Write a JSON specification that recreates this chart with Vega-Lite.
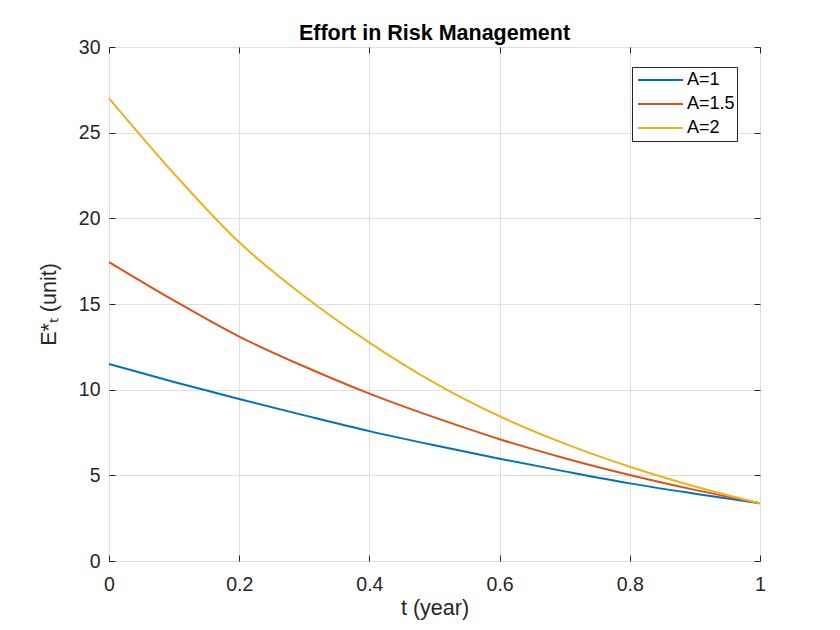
{
  "$schema": "https://vega.github.io/schema/vega-lite/v6.json",
  "width": 651,
  "height": 514,
  "autosize": {"type": "none"},
  "padding": {"left": 109, "top": 47, "right": 80, "bottom": 69},
  "background": "white",
  "title": {
    "text": "Effort in Risk Management",
    "font": "Liberation Sans",
    "fontSize": 21.5,
    "fontWeight": "bold",
    "color": "black",
    "baseline": "alphabetic",
    "offset": 9,
    "dy": 33
  },
  "config": {
    "view": {"stroke": "#262626", "strokeWidth": 1},
    "axis": {
      "labelFont": "Liberation Sans",
      "labelFontSize": 19.5,
      "labelColor": "#262626",
      "labelFlush": false,
      "titleFont": "Liberation Sans",
      "titleFontSize": 21.5,
      "titleFontWeight": "normal",
      "titleColor": "#262626",
      "tickColor": "#262626",
      "domainColor": "#262626",
      "gridColor": "#dfdfdf",
      "tickSize": -6
    }
  },
  "data": {
    "values": [
      {"t": 0.0, "E": 11.5, "A": "A=1"},
      {"t": 0.1, "E": 10.45, "A": "A=1"},
      {"t": 0.2, "E": 9.45, "A": "A=1"},
      {"t": 0.3, "E": 8.5, "A": "A=1"},
      {"t": 0.4, "E": 7.58, "A": "A=1"},
      {"t": 0.5, "E": 6.75, "A": "A=1"},
      {"t": 0.6, "E": 5.97, "A": "A=1"},
      {"t": 0.7, "E": 5.23, "A": "A=1"},
      {"t": 0.8, "E": 4.53, "A": "A=1"},
      {"t": 0.9, "E": 3.93, "A": "A=1"},
      {"t": 1.0, "E": 3.37, "A": "A=1"},
      {"t": 0.0, "E": 17.45, "A": "A=1.5"},
      {"t": 0.1, "E": 15.2, "A": "A=1.5"},
      {"t": 0.2, "E": 13.1, "A": "A=1.5"},
      {"t": 0.3, "E": 11.35, "A": "A=1.5"},
      {"t": 0.4, "E": 9.77, "A": "A=1.5"},
      {"t": 0.5, "E": 8.38, "A": "A=1.5"},
      {"t": 0.6, "E": 7.11, "A": "A=1.5"},
      {"t": 0.7, "E": 6.0, "A": "A=1.5"},
      {"t": 0.8, "E": 5.02, "A": "A=1.5"},
      {"t": 0.9, "E": 4.15, "A": "A=1.5"},
      {"t": 1.0, "E": 3.37, "A": "A=1.5"},
      {"t": 0.0, "E": 27.0, "A": "A=2"},
      {"t": 0.1, "E": 22.6, "A": "A=2"},
      {"t": 0.2, "E": 18.6, "A": "A=2"},
      {"t": 0.3, "E": 15.45, "A": "A=2"},
      {"t": 0.4, "E": 12.75, "A": "A=2"},
      {"t": 0.5, "E": 10.4, "A": "A=2"},
      {"t": 0.6, "E": 8.45, "A": "A=2"},
      {"t": 0.7, "E": 6.85, "A": "A=2"},
      {"t": 0.8, "E": 5.5, "A": "A=2"},
      {"t": 0.9, "E": 4.35, "A": "A=2"},
      {"t": 1.0, "E": 3.37, "A": "A=2"}
    ]
  },
  "layer": [
    {
      "mark": {"type": "line", "strokeWidth": 2, "interpolate": "monotone"},
      "encoding": {
        "x": {
          "field": "t",
          "type": "quantitative",
          "scale": {"domain": [0, 1], "nice": false},
          "axis": {
            "values": [0, 0.2, 0.4, 0.6, 0.8, 1],
            "format": "~g",
            "title": "t (year)",
            "labelPadding": 20,
            "titlePadding": 4,
            "domain": false
          }
        },
        "y": {
          "field": "E",
          "type": "quantitative",
          "scale": {"domain": [0, 30], "nice": false},
          "axis": {
            "values": [0, 5, 10, 15, 20, 25, 30],
            "title": "E*ₜ (unit)",
            "labelPadding": 15,
            "titlePadding": 18,
            "domain": false
          }
        },
        "color": {
          "field": "A",
          "type": "nominal",
          "scale": {
            "domain": ["A=1", "A=1.5", "A=2"],
            "range": ["#0072BD", "#D95319", "#EDB120"]
          },
          "legend": {
            "title": null,
            "orient": "none",
            "legendX": 523,
            "legendY": 20,
            "fillColor": "white",
            "strokeColor": "#262626",
            "padding": 2,
            "symbolOffset": 3,
            "symbolType": "stroke",
            "symbolSize": 2025,
            "symbolStrokeWidth": 2,
            "clipHeight": 22,
            "rowPadding": 2,
            "labelOffset": 3,
            "labelFont": "Liberation Sans",
            "labelFontSize": 18,
            "labelColor": "black",
            "labelExpr": "datum.label + '\u00a0\u00a0\u00a0'"
          }
        }
      }
    },
    {
      "mark": {"type": "line", "opacity": 0},
      "encoding": {
        "x": {
          "field": "t",
          "type": "quantitative",
          "axis": {"orient": "top", "values": [0, 0.2, 0.4, 0.6, 0.8, 1], "labels": false, "title": null, "grid": false, "domain": false}
        },
        "y": {
          "field": "E",
          "type": "quantitative",
          "axis": {"orient": "right", "values": [0, 5, 10, 15, 20, 25, 30], "labels": false, "title": null, "grid": false, "domain": false}
        },
        "detail": {"field": "A"}
      }
    }
  ],
  "resolve": {"axis": {"x": "independent", "y": "independent"}}
}
